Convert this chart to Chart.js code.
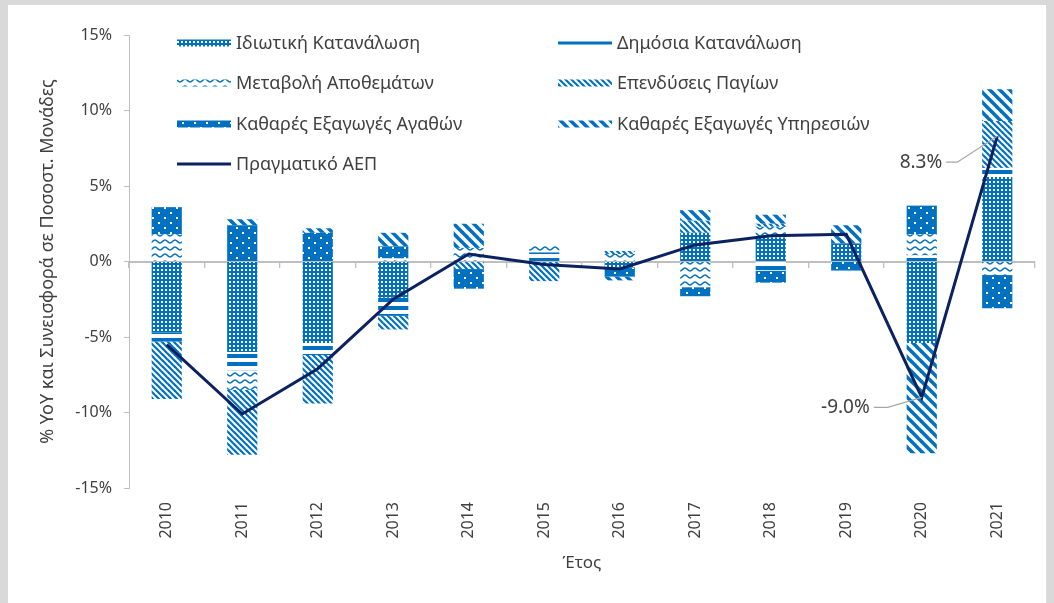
<!DOCTYPE html>
<html>
<head>
<meta charset="utf-8">
<script src="https://cdn.jsdelivr.net/npm/chart.js@4.4.1/dist/chart.umd.min.js"></script>
<style>
  html, body { margin: 0; padding: 0; background: #d9d9d9; }
  #wrap { position: relative; width: 1054px; height: 603px; overflow: hidden; }
  #panel { position: absolute; left: 8px; top: 5px; width: 1038px; height: 598px; background: #fff; }
  #c { position: absolute; left: 0; top: 0; }
</style>
</head>
<body>
<div id="wrap"><div id="panel"></div><canvas id="c" width="1054" height="603"></canvas></div>
<script>
/* GDP growth and contributions by component, 2010-2021 */
const years = ['2010', '2011', '2012', '2013', '2014', '2015', '2016', '2017', '2018', '2019', '2020', '2021'];
const privateCons = [-4.7, -6.0, -5.4, -2.4, 0, 0, -0.4, 1.9, 1.6, 1.2, -5.4, 5.6];
const publicCons = [-0.6, -1.2, -0.8, -1.2, 0, 0.6, 0, 0, -0.6, 0, 0.4, 0.6];
const inventories = [1.8, -1.3, 0, 0.2, 0.9, 0.5, 0.5, -1.7, 0.7, 0, 1.4, -0.9];
const fixedInvest = [-3.8, -4.3, -3.2, -0.9, -0.5, -1.3, 0.2, 0.8, 0.2, 0, 0, 3.1];
const netGoods = [1.8, 2.4, 1.9, 0.8, -1.3, 0, -0.6, -0.6, -0.8, -0.6, 1.9, -2.2];
const netServices = [0, 0.4, 0.3, 0.9, 1.6, 0, -0.25, 0.7, 0.6, 1.2, -7.3, 2.1];
const realGDP = [-5.5, -10.1, -7.1, -2.5, 0.5, -0.2, -0.5, 1.1, 1.7, 1.8, -9.0, 8.3];
const yTicks = [-15, -10, -5, 0, 5, 10, 15];
const callouts = [{ idx: 10, text: '-9.0%' }, { idx: 11, text: '8.3%' }];

const BLUE = '#0070c0';
const NAVY = '#0b2160';
const TEXT = '#404040';
const AXIS = '#bfbfbf';
const FONT = '"Noto Sans", "Open Sans", sans-serif';

const canvas = document.getElementById('c');
const ctx = canvas.getContext('2d');

function tile(w, h, draw) {
  const t = document.createElement('canvas');
  t.width = w; t.height = h;
  const g = t.getContext('2d');
  g.fillStyle = '#fff'; g.fillRect(0, 0, w, h);
  draw(g, w, h);
  return ctx.createPattern(t, 'repeat');
}

const P = {
  privateCons: tile(4, 4, (g) => {
    g.fillStyle = BLUE; g.fillRect(0, 0, 4, 4);
    g.fillStyle = '#fff'; g.fillRect(1, 1, 2, 2);
  }),
  publicCons: tile(8, 8, (g) => {
    g.fillStyle = BLUE; g.fillRect(0, 2, 8, 4);
  }),
  inventories: tile(10, 7, (g) => {
    g.strokeStyle = BLUE; g.lineWidth = 1.7;
    g.beginPath(); g.moveTo(0, 5);
    g.bezierCurveTo(2, 5, 3, 2, 5, 2); g.bezierCurveTo(7, 2, 8, 5, 10, 5);
    g.stroke();
  }),
  fixedInvest: tile(6, 6, (g) => {
    g.strokeStyle = BLUE; g.lineWidth = 2.2;
    for (let k = -1; k <= 1; k++) { g.beginPath(); g.moveTo(k * 6 - 2, -2); g.lineTo(k * 6 + 8, 8); g.stroke(); }
  }),
  netGoods: tile(12, 10, (g) => {
    g.fillStyle = BLUE; g.fillRect(0, 0, 12, 10);
    g.fillStyle = '#fff'; g.fillRect(2, 2, 2, 2); g.fillRect(8, 7, 2, 2);
  }),
  netServices: tile(10, 10, (g) => {
    g.strokeStyle = BLUE; g.lineWidth = 3.6;
    for (let k = -1; k <= 1; k++) { g.beginPath(); g.moveTo(k * 10 - 2, -2); g.lineTo(k * 10 + 12, 12); g.stroke(); }
  }),
};

const legendItems = [
  { label: 'Ιδιωτική Κατανάλωση', fill: P.privateCons, col: 0, row: 0 },
  { label: 'Δημόσια Κατανάλωση', line: BLUE, col: 1, row: 0 },
  { label: 'Μεταβολή Αποθεμάτων', fill: P.inventories, col: 0, row: 1 },
  { label: 'Επενδύσεις Παγίων', fill: P.fixedInvest, col: 1, row: 1 },
  { label: 'Καθαρές Εξαγωγές Αγαθών', fill: P.netGoods, col: 0, row: 2 },
  { label: 'Καθαρές Εξαγωγές Υπηρεσιών', fill: P.netServices, col: 1, row: 2 },
  { label: 'Πραγματικό ΑΕΠ', line: NAVY, col: 0, row: 3 },
];

const patternLegend = {
  id: 'patternLegend',
  afterDraw(chart) {
    const c = chart.ctx;
    const colX = [177, 558];
    const rowY = [43, 83, 124, 164];
    c.save();
    c.font = '18px ' + FONT;
    c.textBaseline = 'middle';
    legendItems.forEach((it) => {
      const x = colX[it.col], y = rowY[it.row];
      if (it.line) {
        c.fillStyle = it.line; c.fillRect(x, y - 1.5, 54, 3);
      } else {
        c.fillStyle = it.fill; c.fillRect(x, y - 3.5, 54, 7);
      }
      c.fillStyle = TEXT;
      c.fillText(it.label, x + 59, y + 1);
    });
    c.restore();
  },
};

const calloutPlugin = {
  id: 'callouts',
  afterDatasetsDraw(chart) {
    const c = chart.ctx;
    const x = chart.scales.x, y = chart.scales.y;
    c.save();
    c.strokeStyle = '#a6a6a6'; c.lineWidth = 1.3;
    c.font = '19px ' + FONT; c.fillStyle = TEXT;
    c.textAlign = 'right'; c.textBaseline = 'middle';
    callouts.forEach((co) => {
      const px = x.getPixelForValue(co.idx), py = y.getPixelForValue(realGDP[co.idx]);
      const up = realGDP[co.idx] > 0;
      const dy = up ? 26 : 10, dx = up ? 40 : 34, tail = up ? 11 : 14;
      c.beginPath();
      c.moveTo(px, py); c.lineTo(px - dx, py + dy); c.lineTo(px - dx - tail, py + dy);
      c.stroke();
      c.fillText(co.text, px - dx - tail - 4, py + dy);
    });
    c.restore();
  },
};

const barSet = (label, data, bg) => ({
  type: 'bar', label, data, backgroundColor: bg, borderWidth: 0,
  barPercentage: 0.4, categoryPercentage: 1, stack: 'parts', order: 1,
});

new Chart(ctx, {
  data: {
    labels: years,
    datasets: [
      { type: 'line', label: 'Πραγματικό ΑΕΠ', data: realGDP, borderColor: NAVY, borderWidth: 3,
        pointRadius: 0, tension: 0, fill: false, stack: 'gdp', order: 0 },
      barSet('Ιδιωτική Κατανάλωση', privateCons, P.privateCons),
      barSet('Δημόσια Κατανάλωση', publicCons, P.publicCons),
      barSet('Μεταβολή Αποθεμάτων', inventories, P.inventories),
      barSet('Επενδύσεις Παγίων', fixedInvest, P.fixedInvest),
      barSet('Καθαρές Εξαγωγές Αγαθών', netGoods, P.netGoods),
      barSet('Καθαρές Εξαγωγές Υπηρεσιών', netServices, P.netServices),
    ],
  },
  options: {
    responsive: false,
    animation: false,
    layout: { padding: { left: 33, top: 35, right: 19, bottom: 26 } },
    plugins: { legend: { display: false }, tooltip: { enabled: false } },
    scales: {
      x: {
        stacked: true, offset: true,
        grid: { display: false, drawTicks: false }, border: { display: false },
        ticks: { minRotation: 90, maxRotation: 90, padding: 14, color: TEXT, font: { family: FONT, size: 16 } },
        title: { display: true, text: 'Έτος', color: TEXT, font: { family: FONT, size: 17 } },
        afterFit: (s) => { s.height = 89; },
      },
      x0: {
        type: 'category', position: { y: 0 }, offset: true,
        grid: { offset: true, drawOnChartArea: false, drawTicks: true, tickLength: 5, color: AXIS, lineWidth: 1.3 },
        border: { color: AXIS, width: 2 },
        ticks: { display: false },
      },
      y: {
        stacked: true, min: -15, max: 15,
        afterBuildTicks: (s) => { s.ticks = yTicks.map((v) => ({ value: v })); },
        ticks: { padding: 12, color: TEXT, font: { family: FONT, size: 16 }, callback: (v) => v + '%' },
        grid: { drawOnChartArea: false, drawTicks: true, tickLength: 5, color: AXIS },
        border: { color: AXIS, width: 1 },
        title: { display: true, text: '% YoY και Συνεισφορά σε Ποσοστ. Μονάδες', color: TEXT, font: { family: FONT, size: 18 } },
        afterFit: (s) => { s.width = 96; },
      },
    },
  },
  plugins: [patternLegend, calloutPlugin],
});
</script>
</body>
</html>
